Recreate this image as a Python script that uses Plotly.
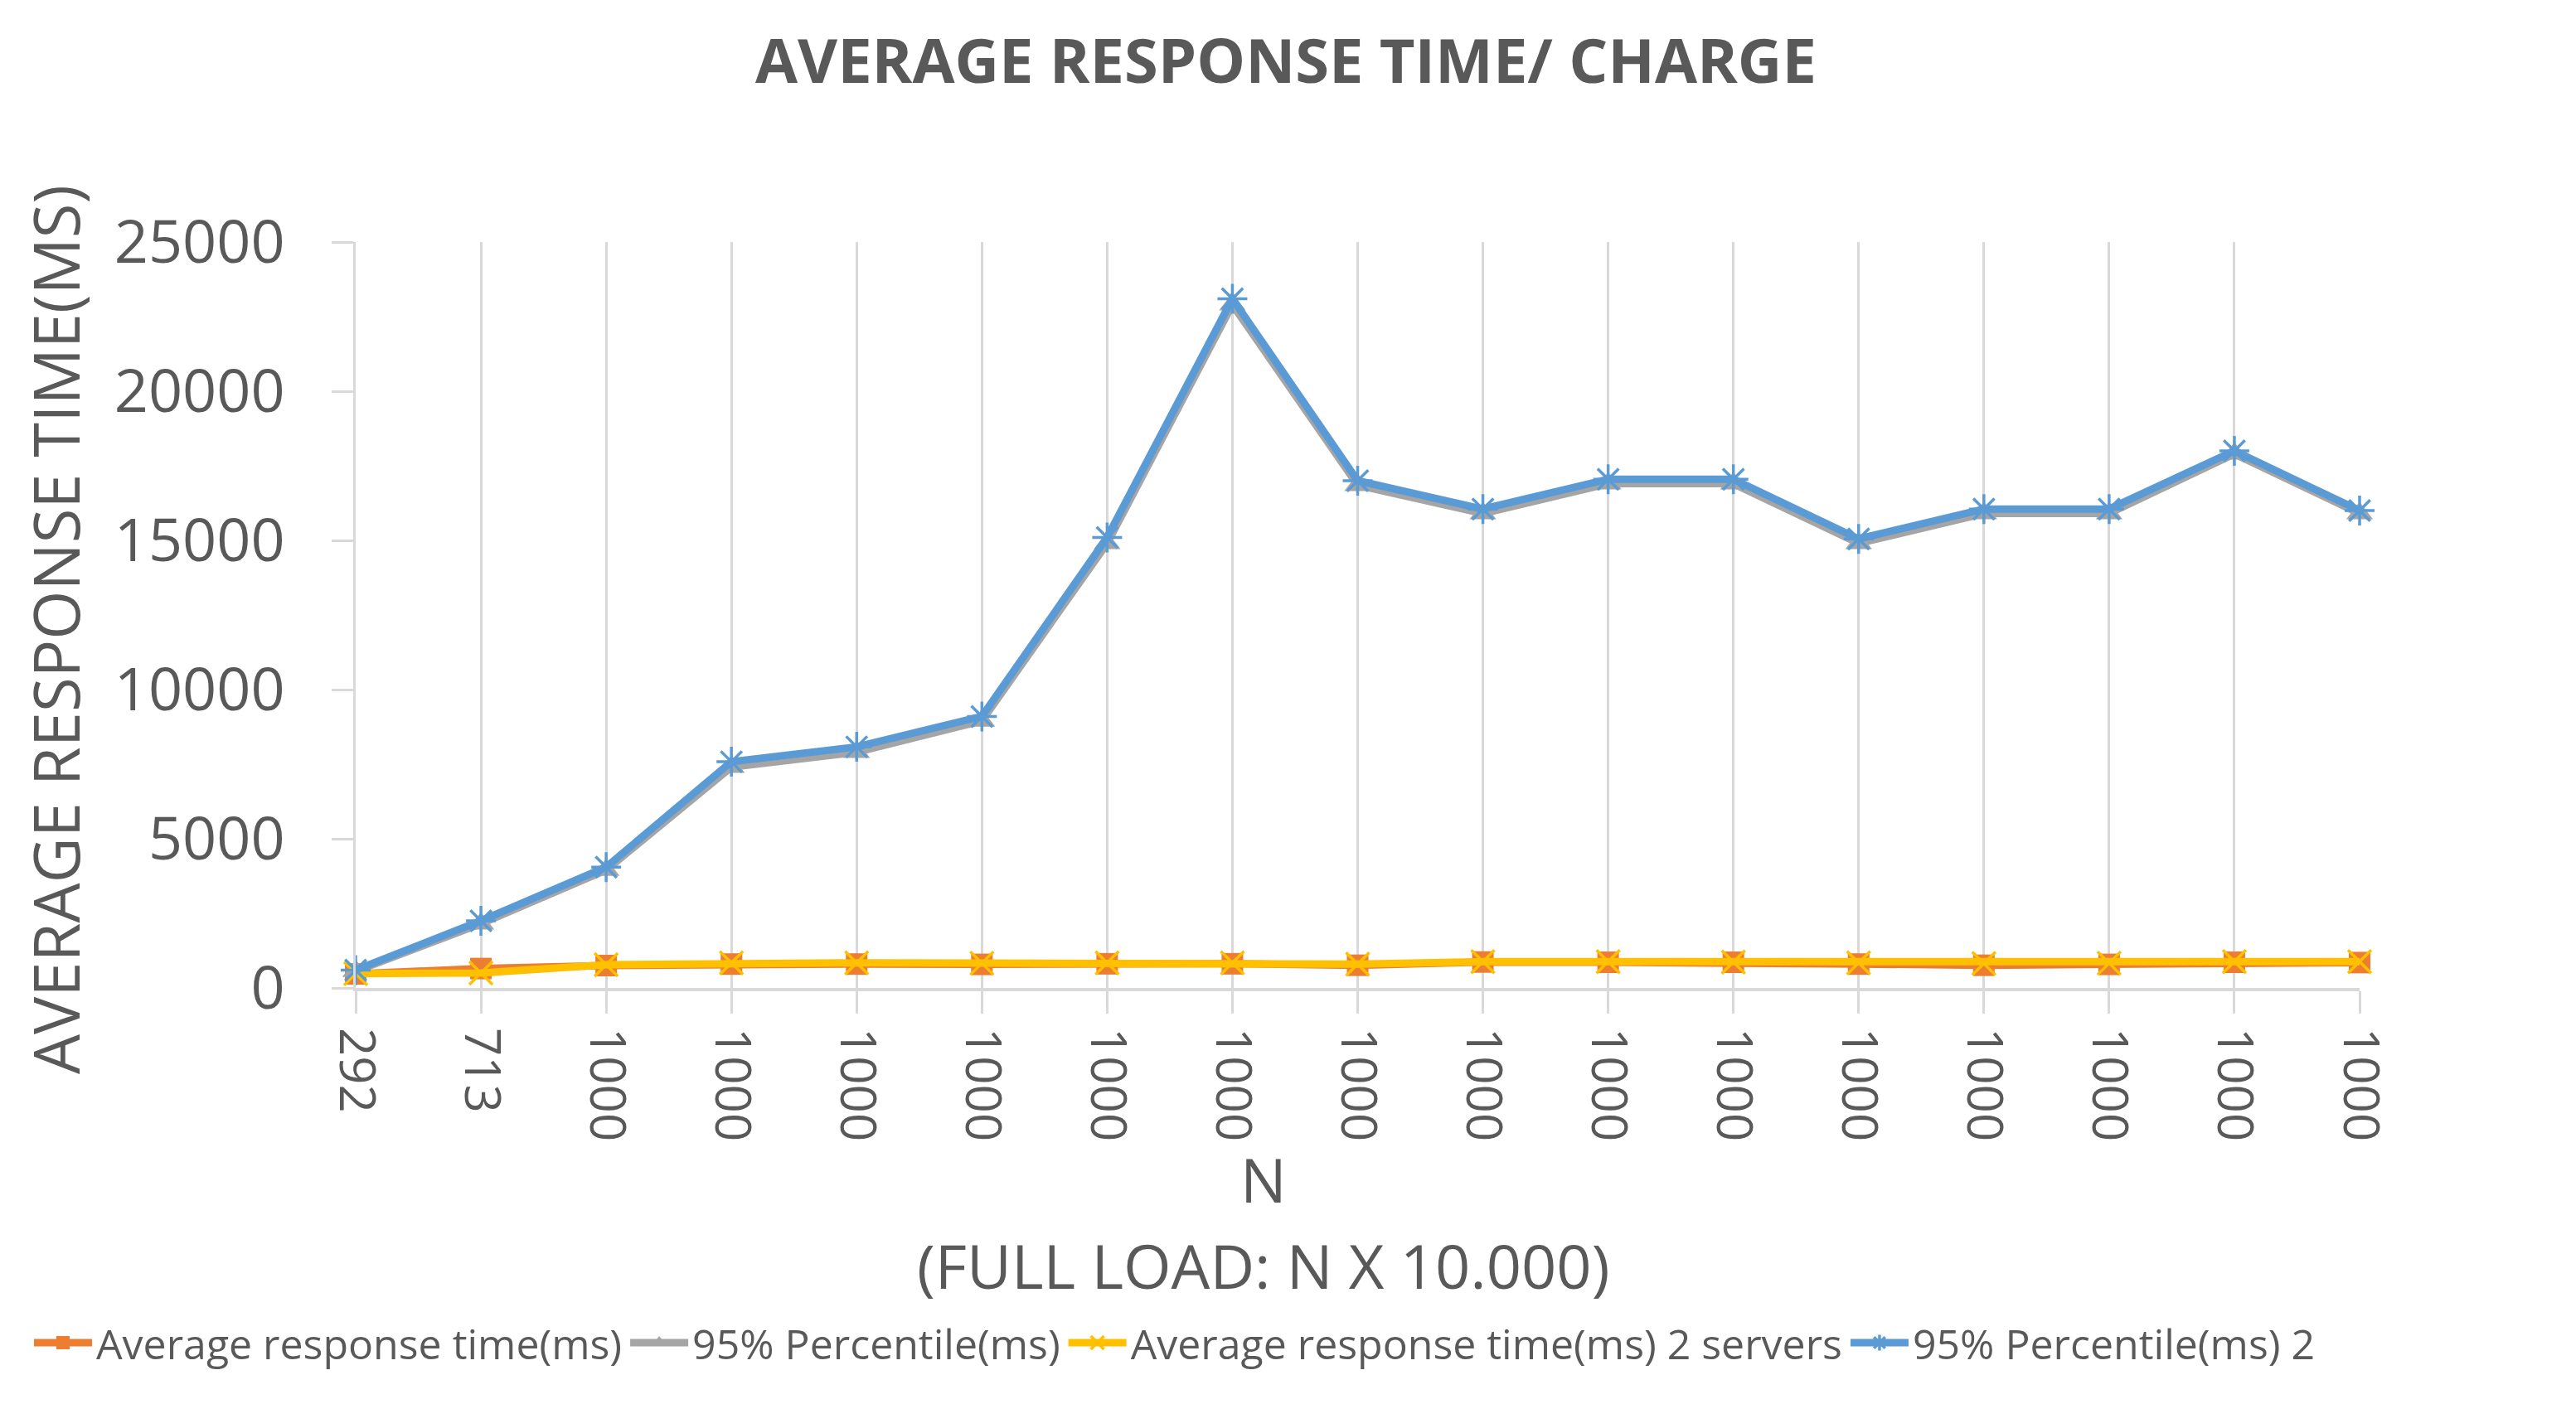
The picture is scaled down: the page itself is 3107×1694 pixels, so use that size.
import plotly.graph_objects as go

# ---- data ----
load_labels = ["292", "713", "1000", "1000", "1000", "1000", "1000", "1000", "1000",
               "1000", "1000", "1000", "1000", "1000", "1000", "1000", "1000"]
avg_ms = [470, 650, 750, 800, 800, 790, 810, 810, 760, 870, 860, 860, 800, 760, 790, 860, 850]
p95_ms = [560, 2150, 3950, 7400, 7900, 8950, 14900, 22900, 16850, 15900, 16900, 16900,
          14900, 15900, 15900, 17900, 15900]
avg_ms_2 = [480, 500, 780, 840, 840, 830, 840, 840, 800, 880, 880, 870, 840, 820, 830, 880, 880]
p95_ms_2 = [600, 2250, 4050, 7580, 8080, 9100, 15100, 23100, 17000, 16050, 17050, 17050,
            15050, 16050, 16050, 18000, 16000]
series_names = ["Average response time(ms)", "95% Percentile(ms)",
                "Average response time(ms) 2 servers", "95% Percentile(ms) 2"]

x_idx = list(range(len(load_labels)))

TEXT = "#595959"
GRID = "#d9d9d9"
FONT = "Open Sans"
W, H = 3107, 1694
ML, MR, MT, MB = 421, 269, 284, 510
PW, PH = W - ML - MR, H - MT - MB


def px_x(px):
    return (px - ML) / PW


def px_y(py):
    return (H - MB - py) / PH


fig = go.Figure()
fig.add_trace(go.Scatter(
    x=x_idx, y=avg_ms, name=series_names[0], mode="lines+markers",
    line=dict(color="#ED7D31", width=9),
    marker=dict(symbol="square", size=26, color="#ED7D31"),
    cliponaxis=False))
fig.add_trace(go.Scatter(
    x=x_idx, y=p95_ms, name=series_names[1], mode="lines+markers",
    line=dict(color="#A5A5A5", width=9),
    marker=dict(symbol="triangle-up", size=28, color="#A5A5A5"),
    cliponaxis=False))
fig.add_trace(go.Scatter(
    x=x_idx, y=avg_ms_2, name=series_names[2], mode="lines+markers",
    line=dict(color="#FFC000", width=9),
    marker=dict(symbol="x-thin-open", size=28, color="#FFC000",
                line=dict(color="#FFC000", width=3.5)),
    cliponaxis=False))
fig.add_trace(go.Scatter(
    x=x_idx, y=p95_ms_2, name=series_names[3], mode="lines+markers",
    line=dict(color="#5B9BD5", width=9),
    marker=dict(symbol="asterisk-open", size=30, color="#5B9BD5",
                line=dict(color="#5B9BD5", width=3.5)),
    cliponaxis=False))

fig.update_layout(
    width=W, height=H,
    paper_bgcolor="white", plot_bgcolor="white",
    margin=dict(l=ML, r=MR, t=MT, b=MB, autoexpand=False),
    font=dict(family=FONT, color=TEXT),
    title=dict(text="<b>AVERAGE RESPONSE TIME/ CHARGE</b>",
               x=0.4966, xref="container", xanchor="center",
               y=1 - 66 / H, yref="container", yanchor="middle",
               font=dict(family=FONT, size=74, color=TEXT)),
    showlegend=True,
    legend=dict(orientation="h", xref="paper", yref="paper",
                x=px_x(28), xanchor="left",
                y=px_y(1612), yanchor="middle",
                font=dict(family=FONT, size=50, color=TEXT),
                itemwidth=70, tracegroupgap=0, bgcolor="rgba(0,0,0,0)"),
)

fig.update_xaxes(
    range=[0, len(load_labels) - 1],
    tickmode="array", tickvals=x_idx, ticktext=load_labels,
    tickangle=90, tickfont=dict(family=FONT, size=60, color=TEXT),
    showgrid=True, gridcolor=GRID, gridwidth=3,
    ticks="outside", ticklen=27, tickwidth=3, tickcolor=GRID,
    ticklabelstandoff=5,
    showline=True, linecolor=GRID, linewidth=4,
    zeroline=False,
)
fig.update_yaxes(
    range=[0, 25000], tickmode="linear", tick0=0, dtick=5000, tickformat="d",
    tickfont=dict(family=FONT, size=72, color=TEXT),
    showgrid=False, zeroline=False,
    ticks="outside", ticklen=26, tickwidth=3, tickcolor=GRID,
    ticklabelstandoff=42,
    showline=True, linecolor=GRID, linewidth=3,
)

fig.add_annotation(text="AVERAGE RESPONSE TIME(MS)", textangle=-90,
                   xref="paper", yref="paper", x=px_x(58), y=px_y(752),
                   xanchor="center", yanchor="middle", showarrow=False,
                   font=dict(family=FONT, size=76, color=TEXT))
fig.add_annotation(text="N", xref="paper", yref="paper",
                   x=px_x(1516), y=px_y(1414),
                   xanchor="center", yanchor="middle", showarrow=False,
                   font=dict(family=FONT, size=74, color=TEXT))
fig.add_annotation(text="(FULL LOAD: N X 10.000)", xref="paper", yref="paper",
                   x=px_x(1516), y=px_y(1518),
                   xanchor="center", yanchor="middle", showarrow=False,
                   font=dict(family=FONT, size=74, color=TEXT))

fig.write_html("out.html")
